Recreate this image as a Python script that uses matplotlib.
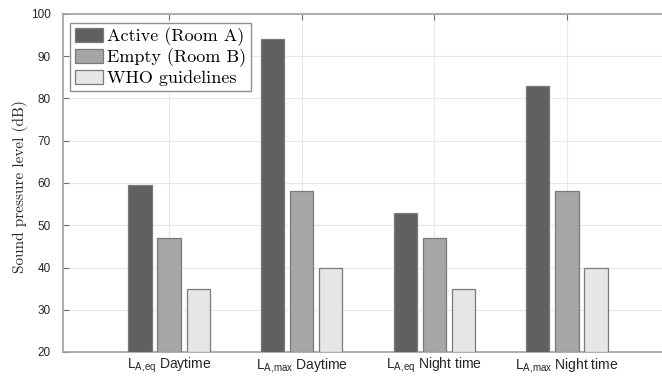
import matplotlib
matplotlib.use("Agg")
import matplotlib.pyplot as plt
import numpy as np

categories = [r"$\mathrm{L_{A{,}eq}}$ Daytime", r"$\mathrm{L_{A{,}max}}$ Daytime",
              r"$\mathrm{L_{A{,}eq}}$ Night time", r"$\mathrm{L_{A{,}max}}$ Night time"]
series_names = ["Active (Room A)", "Empty (Room B)", "WHO guidelines"]
active = [59.6, 94, 53, 83]
empty = [47, 58, 47, 58]
who = [35, 40, 35, 40]
yticks = [20, 30, 40, 50, 60, 70, 80, 90, 100]

plt.rcParams['mathtext.fontset'] = 'custom'
plt.rcParams['mathtext.rm'] = 'Liberation Sans'
plt.rcParams['mathtext.it'] = 'Liberation Sans'

colors = ["#606060", "#a6a6a6", "#e6e6e6"]
edge = "#7a7a7a"
spine_c = "#a0a0a0"

fig = plt.figure(figsize=(6.62, 3.76), dpi=100)
ax = fig.add_axes([63/662, 1 - 352/376, 610/662, 338/376])

x = np.arange(1, len(categories) + 1)
w = 0.175
off = 0.22
for i, (vals, c, name) in enumerate(zip([active, empty, who], colors, series_names)):
    ax.bar(x + (i - 1) * off, np.array(vals) - 20, width=w, bottom=20, color=c,
           edgecolor=edge, linewidth=0.9, label=name, zorder=3)

ax.set_xlim(0.2, 4.8)
ax.set_ylim(20, 100)
ax.set_yticks(yticks)
ax.set_xticks(x)
ax.set_xticklabels(categories, fontsize=10, fontfamily='Liberation Sans')
for lab in ax.get_yticklabels():
    lab.set_fontfamily('Liberation Sans')
    lab.set_fontsize(8.5)
ax.grid(True, color="#e8e8e8", linewidth=0.8, zorder=0)
ax.set_axisbelow(True)
ax.tick_params(direction='in', length=4, color="#707070", top=True, right=True,
               labelcolor="#262626")
ax.tick_params(axis='x', pad=3)
ax.tick_params(axis='y', pad=9)
for s in ax.spines.values():
    s.set_color(spine_c)
    s.set_linewidth(1.2)

ax.set_ylabel("Sound pressure level (dB)", fontfamily='cmr10', fontsize=11,
              color="#262626")
ax.yaxis.set_label_coords(-0.057, 0.49)

leg = ax.legend(loc='upper left', bbox_to_anchor=(7/610, 1 - 8.5/338),
                prop={'family': 'cmr10', 'size': 13}, fancybox=False,
                framealpha=1, edgecolor="#909090", borderpad=0.25,
                handlelength=1.6, handleheight=0.8, handletextpad=0.2,
                labelspacing=0.15, borderaxespad=0)
leg.get_frame().set_linewidth(1.0)

fig.savefig("out.png", dpi=100)
